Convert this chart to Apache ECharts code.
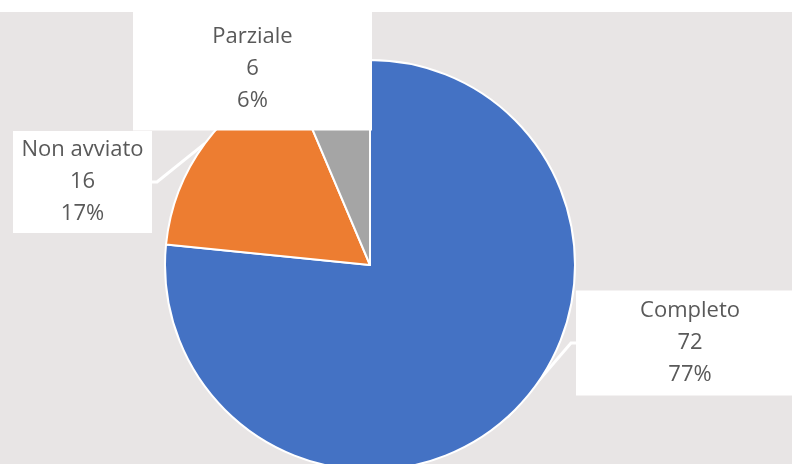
<!DOCTYPE html>
<html>
<head>
<meta charset="utf-8">
<script src="https://cdn.jsdelivr.net/npm/echarts@6/dist/echarts.min.js"></script>
<style>
html,body{margin:0;padding:0;background:#fff;}
#chart{width:792px;height:464px;}
</style>
</head>
<body>
<div id="chart"></div>
<script>
const categories = ['Completo', 'Non avviato', 'Parziale'];
const values = [72, 16, 6];
const colors = ['#4472C4', '#ED7D31', '#A5A5A5'];

// label box placement (layout only)
const labelBoxes = [
  {x: 690, y: 343, width: 228, padding: [7, 0, 2, 0]},
  {x: 82.5, y: 182, width: 139, padding: [5, 0, 1, 0]},
  {x: 252.5, y: 68.5, width: 239, padding: [21, 0, 7, 0]}
];

const chart = echarts.init(document.getElementById('chart'), null, {renderer: 'canvas'});

const data = categories.map((name, i) => ({
  name: name,
  value: values[i],
  itemStyle: {color: colors[i]},
  label: {width: labelBoxes[i].width, padding: labelBoxes[i].padding}
}));

chart.setOption({
  backgroundColor: '#E8E5E5',
  animation: false,
  graphic: [{
    type: 'rect', z: 0, left: 0, top: 0,
    shape: {width: 792, height: 12},
    style: {fill: '#ffffff'}
  }],
  series: [{
    type: 'pie',
    center: [370, 265],
    radius: 205,
    startAngle: 90,
    clockwise: true,
    percentPrecision: 0,
    avoidLabelOverlap: false,
    data: data,
    itemStyle: {borderColor: '#ffffff', borderWidth: 2},
    label: {
      show: true,
      position: 'outside',
      formatter: '{b}\n{c}\n{d}%',
      fontFamily: '"Open Sans", "Noto Sans", sans-serif',
      fontSize: 22,
      lineHeight: 32,
      color: '#595959',
      align: 'center',
      backgroundColor: '#ffffff'
    },
    labelLine: {
      show: true,
      length: 5,
      length2: 5,
      smooth: false,
      lineStyle: {color: '#ffffff', width: 3}
    },
    labelLayout: function (params) {
      const b = labelBoxes[params.dataIndex];
      return {x: b.x, y: b.y, align: 'center', verticalAlign: 'middle'};
    },
    emphasis: {disabled: true}
  }]
});
</script>
</body>
</html>
